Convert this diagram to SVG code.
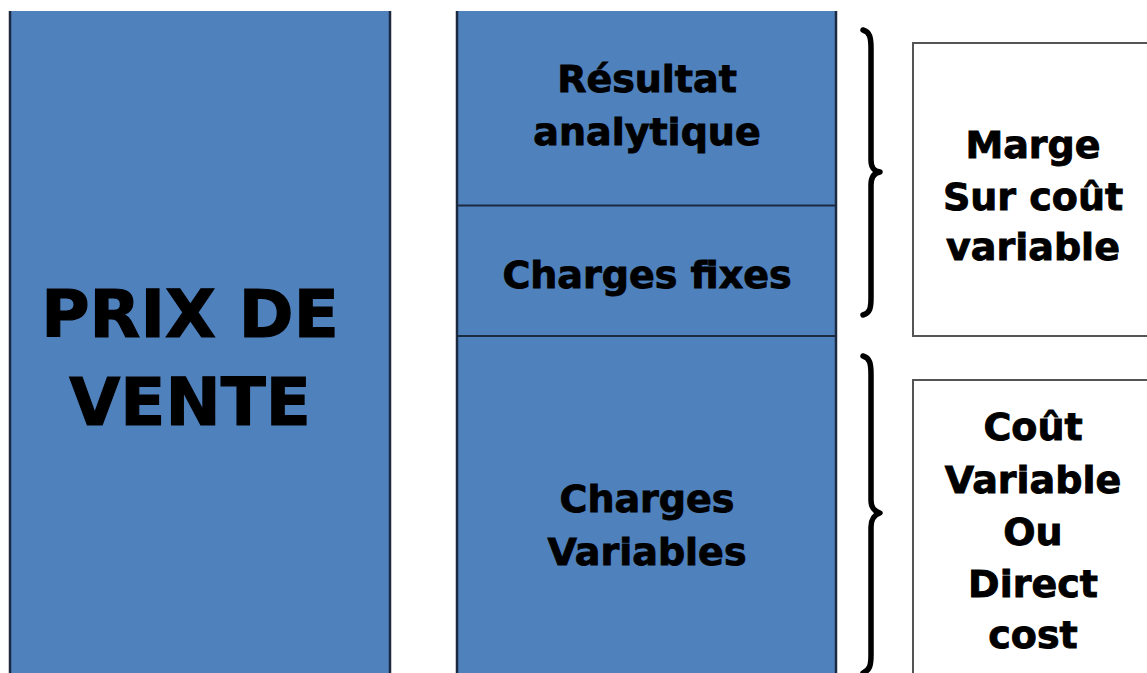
<svg xmlns="http://www.w3.org/2000/svg" width="1147" height="673" viewBox="0 0 1147 673">
<style>
.blk{fill:#4f81bd}
.edge{stroke:#1c2a40;stroke-width:2.5;fill:none}
.div{stroke:#1c2a40;stroke-width:2;fill:none}
.box{fill:#fff;stroke:#555;stroke-width:2}
.brace{fill:none;stroke:#000;stroke-width:5.5;stroke-linecap:round;stroke-linejoin:round}
text{font-family:"DejaVu Sans",Verdana,sans-serif;font-weight:bold;fill:#000;stroke:#000;stroke-width:0.9;text-anchor:middle}
.big{font-size:66px;stroke-width:1.2}
.med{font-size:38px}
</style>
<rect width="1147" height="673" fill="#fff"/>
<g id="prix">
<rect class="blk" x="9" y="11" width="382" height="670"/>
<line class="edge" x1="10" y1="11" x2="10" y2="673"/>
<line class="edge" x1="390" y1="11" x2="390" y2="673"/>
<text class="big" x="190" y="337">PRIX DE</text>
<text class="big" x="190" y="425">VENTE</text>
</g>
<g id="resultat">
<rect class="blk" x="456" y="11" width="381" height="195"/>
<text class="med" x="647" y="92">Résultat</text>
<text class="med" x="647" y="145">analytique</text>
</g>
<g id="fixes">
<rect class="blk" x="456" y="206" width="381" height="130"/>
<text class="med" x="647" y="288">Charges fixes</text>
</g>
<g id="variables">
<rect class="blk" x="456" y="336" width="381" height="345"/>
<text class="med" x="647" y="512">Charges</text>
<text class="med" x="647" y="565">Variables</text>
</g>
<g id="column-lines">
<line class="edge" x1="457" y1="11" x2="457" y2="673"/>
<line class="edge" x1="836" y1="11" x2="836" y2="673"/>
<line class="div" x1="456" y1="205.5" x2="837" y2="205.5"/>
<line class="div" x1="456" y1="336" x2="837" y2="336"/>
</g>
<g id="connectors">
<path class="brace" d="M863,30 C870,32 871,38 871,48 L871,160 C871,168 874,171 880,172 C874,173 871,177 871,185 L871,298 C871,308 870,313 863,315"/>
<path class="brace" d="M863,356 C870,358 871,364 871,374 L871,500 C871,508 874,511 880,513 C874,515 871,519 871,527 L871,655 C871,665 870,670 863,673"/>
</g>
<g id="marge">
<rect class="box" x="913" y="43" width="250" height="293"/>
<text class="med" x="1033" y="158">Marge</text>
<text class="med" x="1033" y="210">Sur coût</text>
<text class="med" x="1033" y="260">variable</text>
</g>
<g id="cout">
<rect class="box" x="913" y="380" width="250" height="310"/>
<text class="med" x="1033" y="440">Coût</text>
<text class="med" x="1033" y="493">Variable</text>
<text class="med" x="1033" y="545">Ou</text>
<text class="med" x="1033" y="597">Direct</text>
<text class="med" x="1033" y="648">cost</text>
</g>
</svg>
